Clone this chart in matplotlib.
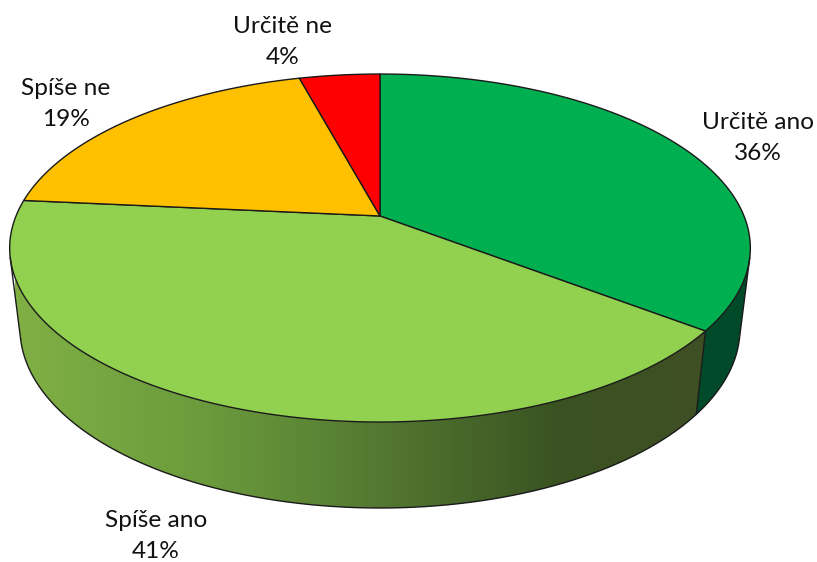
import numpy as np
import matplotlib
matplotlib.use("Agg")
import matplotlib.pyplot as plt
from matplotlib.colors import LinearSegmentedColormap
from matplotlib.patches import Polygon

plt.rcParams["font.family"] = ["Lato", "DejaVu Sans"]

# data, clockwise from 12 o'clock
categories = ["Určitě ano", "Spíše ano", "Spíše ne", "Určitě ne"]
percent_labels = ["36%", "41%", "19%", "4%"]
slice_shares = [35.4, 41.1, 19.3, 4.2]  # measured from the slice angles
slice_colors = ["#00B050", "#92D050", "#FFC000", "#FF0000"]

# perspective of the disc, in pixels
APEX_X, APEX_Y = 380, 216
SCALE_X, SCALE_Y, TILT = 364.0, 168.1, 0.184
DEPTH, SHRINK = 86, 0.972
LABEL_XY = [(758, 138), (156, 536), (66, 104), (283, 42)]


def top_rim(angle):
    u, v = np.sin(angle), np.cos(angle)
    den = 1 + TILT * v
    return APEX_X + SCALE_X * u / den, APEX_Y - SCALE_Y * v / den


def bottom_rim(angle):
    x, y = top_rim(angle)
    return APEX_X + SHRINK * (x - APEX_X), y + DEPTH - (422 - y) * 0.03


def arc(func, start, end, n=300):
    x, y = func(np.linspace(start, end, n))
    return np.column_stack([x, y])


fig = plt.figure(figsize=(8.17, 5.62), dpi=100)
ax = fig.add_axes([0, 0, 1, 1])
ax.axis("off")

edges = 2 * np.pi * np.cumsum([0] + slice_shares) / sum(slice_shares)

# silhouette of the side wall: where the connector runs tangent to both rims
slope = 0.12
grid = np.linspace(np.pi, 2 * np.pi, 2000)
tx, ty = top_rim(grid)
bx, by = bottom_rim(grid)
left_top = grid[np.argmin(tx - slope * ty)]
left_bottom = grid[np.argmin(bx - slope * by)]
grid_r = np.linspace(0, np.pi, 2000)
tx, ty = top_rim(grid_r)
bx, by = bottom_rim(grid_r)
right_top = grid_r[np.argmax(tx + slope * ty)]
right_bottom = grid_r[np.argmax(bx + slope * by)]

# wall of the first slice, flat dark green
wall_a = np.vstack([arc(top_rim, right_top, edges[1]), arc(bottom_rim, edges[1], right_bottom)])
ax.add_patch(Polygon(wall_a, closed=True, facecolor="#004A29", edgecolor="none", zorder=1))

# wall of the second slice, shaded left to right
wall_b = np.vstack([arc(top_rim, edges[1], left_top), arc(bottom_rim, left_bottom, edges[1])])
poly_b = Polygon(wall_b, closed=True, facecolor="none", edgecolor="none", zorder=1)
ax.add_patch(poly_b)
shade = LinearSegmentedColormap.from_list(
    "wall",
    [(0.0, "#80B044"), (0.28, "#6A9A3C"), (0.55, "#517530"), (0.78, "#3A5322"), (1.0, "#3F4F24")],
)
img = ax.imshow(np.linspace(0, 1, 256)[None, :], cmap=shade, vmin=0, vmax=1,
                extent=[15, 710, 562, 0], aspect="auto", zorder=1)
img.set_clip_path(poly_b)
ax.set_xlim(0, 817)
ax.set_ylim(562, 0)

# top faces
for i, color in enumerate(slice_colors):
    pts = np.vstack([[APEX_X, APEX_Y], arc(top_rim, edges[i], edges[i + 1])])
    ax.add_patch(Polygon(pts, closed=True, facecolor=color, edgecolor="#1a1a1a",
                         linewidth=1.0, joinstyle="round", zorder=2))

# wall outlines
line = dict(color="#1a1a1a", linewidth=1.0, zorder=3)
low = arc(bottom_rim, right_bottom, left_bottom)
ax.plot(low[:, 0], low[:, 1], **line)
for a, b in [(left_top, left_bottom), (right_top, right_bottom), (edges[1], edges[1])]:
    x0, y0 = top_rim(a)
    x1, y1 = bottom_rim(b)
    ax.plot([x0, x1], [y0, y1], **line)

for (x, y), name, pct in zip(LABEL_XY, categories, percent_labels):
    ax.text(x, y, f"{name}\n{pct}", ha="center", va="center", fontsize=17.6,
            color="#111111", linespacing=1.55, zorder=4)

fig.savefig("out.png", dpi=100)
